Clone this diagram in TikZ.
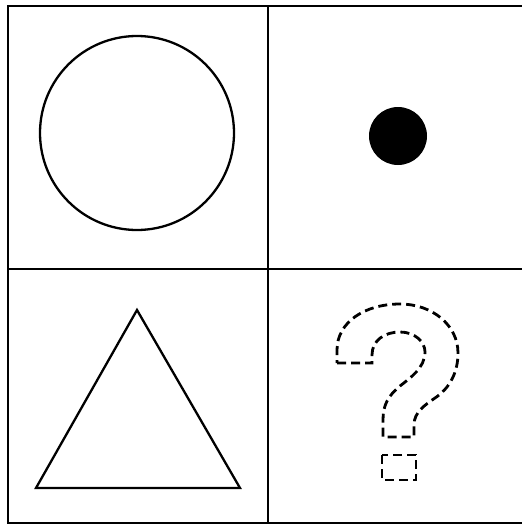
\documentclass[tikz,border=0pt]{standalone}
\begin{document}
\begin{tikzpicture}[x=1pt,y=-1pt,
  gridline/.style={line width=2.3pt,draw=black},
  shapeline/.style={line width=2.3pt,draw=black},
  dashline/.style={line width=2.8pt,draw=black,dash pattern=on 9pt off 5pt}]
\useasboundingbox[fill=white] (0,0) rectangle (522,525);
% grid
\draw[gridline] (8,6) rectangle (529,523);
\draw[gridline] (268,6) -- (268,523);
\draw[gridline] (8,269) -- (529,269);
% circle
\node[circle,shapeline,minimum size=194pt,inner sep=0pt] (c) at (137,133) {};
% dot
\node[circle,fill=black,minimum size=58pt,inner sep=0pt] (d) at (398,136) {};
% triangle
\coordinate (ta) at (137,310);
\coordinate (tl) at (36,488);
\coordinate (tr) at (240,488);
\draw[shapeline,line join=miter] (ta) -- (tl) -- (tr) -- cycle;
% question mark
\draw[dashline] (337,363) -- (372,363) -- (372,355)
  .. controls (372,340) and (385,332) .. (400,332)
  .. controls (415,332) and (425,342) .. (425,352)
  .. controls (425,368) and (410,378) .. (400,386)
  .. controls (388,396) and (383,405) .. (383,420)
  -- (383,437) -- (414,437) -- (414,425)
  .. controls (414,412) and (425,405) .. (435,398)
  .. controls (450,388) and (458,372) .. (458,353)
  .. controls (458,325) and (432,304) .. (400,304)
  .. controls (365,304) and (337,322) .. (337,350) -- cycle;
\draw[dashline] (382,455) rectangle (416,480);
\end{tikzpicture}
\end{document}
